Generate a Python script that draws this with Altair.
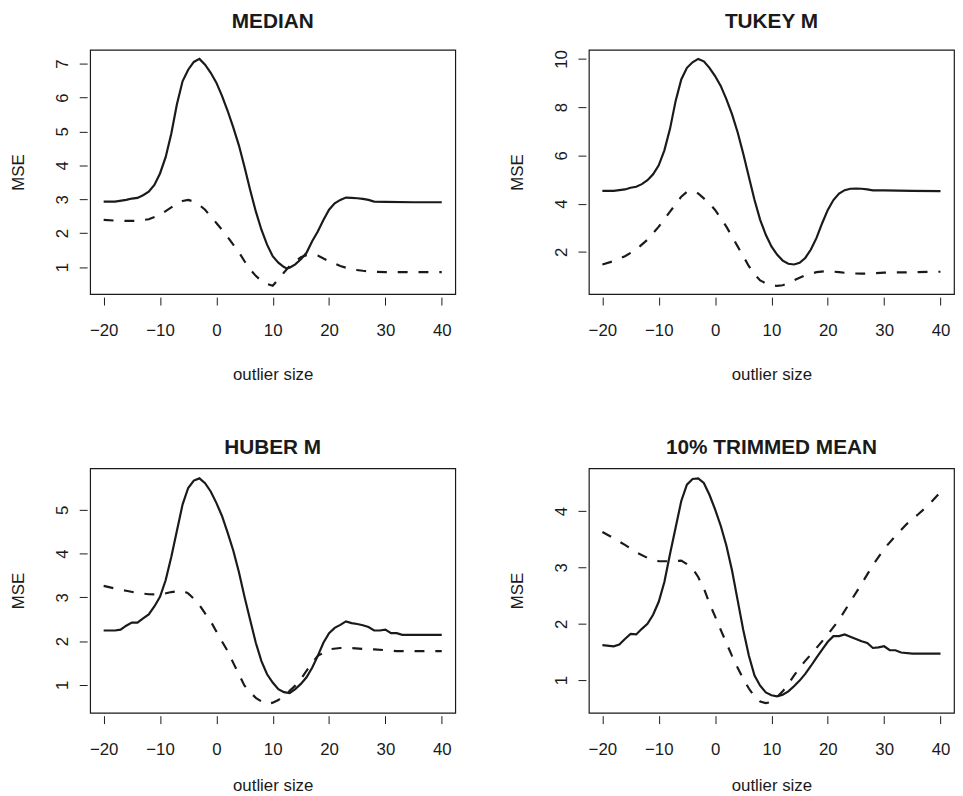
import altair as alt
import pandas as pd

FONT = "Liberation Sans"
INK = "#1a1a1a"

x_ticks = [-20, -10, 0, 10, 20, 30, 40]
x_domain = [-22.4, 42.4]

# ---------------- MEDIAN ----------------
median_solid_x = [-20, -18, -16, -15, -14, -13, -12, -11, -10, -9, -8, -7, -6, -5, -4, -3, -2, -1, 0, 1, 2, 3, 4, 5,
                  6, 7, 8, 9, 10, 11, 12, 12.5, 13, 14, 15, 16, 17, 18, 19, 20, 21, 22, 23, 24, 25, 26, 27, 28, 30, 35, 40]
median_solid_y = [2.93, 2.93, 2.98, 3.02, 3.04, 3.12, 3.22, 3.42, 3.76, 4.24, 4.93, 5.80, 6.48, 6.82, 7.05, 7.14, 6.97,
                  6.73, 6.44, 6.05, 5.61, 5.12, 4.59, 3.95, 3.27, 2.64, 2.10, 1.66, 1.32, 1.13, 1.00, 0.96, 0.98, 1.08,
                  1.23, 1.42, 1.76, 2.05, 2.39, 2.69, 2.88, 2.98, 3.05, 3.04, 3.03, 3.01, 2.98, 2.93, 2.92, 2.91, 2.91]
median_dash_x = [-20, -18, -16, -14, -12, -10, -8, -6, -5, -4, -3, -2, -1, 0, 1, 2, 3, 4, 5, 6, 7, 8, 9, 10, 11, 12,
                 13, 14, 15, 16, 17, 18, 20, 22, 24, 26, 28, 30, 35, 40]
median_dash_y = [2.39, 2.37, 2.36, 2.36, 2.41, 2.54, 2.76, 2.95, 2.98, 2.93, 2.83, 2.69, 2.49, 2.30, 2.10, 1.89, 1.66,
                 1.44, 1.17, 0.93, 0.74, 0.59, 0.50, 0.45, 0.64, 0.84, 1.03, 1.17, 1.29, 1.35, 1.37, 1.34, 1.17, 1.03,
                 0.93, 0.89, 0.86, 0.85, 0.85, 0.85]

# ---------------- TUKEY M ----------------
tukey_solid_x = [-20, -18, -16, -15, -14, -13, -12, -11, -10, -9, -8, -7, -6, -5, -4, -3, -2, -1, 0, 1, 2, 3, 4, 5, 6,
                 7, 8, 9, 10, 11, 12, 13, 14, 15, 16, 17, 18, 19, 20, 21, 22, 23, 24, 25, 26, 27, 28, 30, 35, 40]
tukey_solid_y = [4.53, 4.53, 4.59, 4.66, 4.70, 4.81, 4.97, 5.22, 5.59, 6.21, 7.10, 8.26, 9.15, 9.63, 9.86, 10.0, 9.90,
                 9.63, 9.29, 8.88, 8.33, 7.71, 6.96, 6.07, 5.11, 4.15, 3.33, 2.71, 2.23, 1.89, 1.64, 1.51, 1.48, 1.55,
                 1.75, 2.10, 2.58, 3.19, 3.74, 4.15, 4.42, 4.56, 4.62, 4.63, 4.62, 4.59, 4.55, 4.55, 4.53, 4.52]
tukey_dash_x = [-20, -18, -16, -14, -12, -10, -8, -6, -5, -4, -3, -2, -1, 0, 1, 2, 3, 4, 5, 6, 7, 8, 9, 10, 11, 12, 13,
                14, 15, 16, 18, 20, 22, 24, 26, 28, 30, 35, 40]
tukey_dash_y = [1.48, 1.62, 1.82, 2.10, 2.51, 3.05, 3.67, 4.29, 4.49, 4.52, 4.42, 4.22, 4.01, 3.74, 3.40, 3.05, 2.64,
                2.23, 1.82, 1.41, 1.07, 0.82, 0.70, 0.63, 0.59, 0.62, 0.70, 0.82, 0.93, 1.03, 1.16, 1.21, 1.16, 1.11,
                1.10, 1.11, 1.14, 1.16, 1.18]

# ---------------- HUBER M ----------------
huber_solid_x = [-20, -18, -17, -16, -15, -14, -13, -12, -11, -10, -9, -8, -7, -6, -5, -4, -3, -2, -1, 0, 1, 2, 3, 4,
                 5, 6, 7, 8, 9, 10, 11, 12, 13, 14, 15, 16, 17, 18, 19, 20, 21, 22, 23, 24, 25, 26, 27, 28, 29, 30,
                 31, 32, 33, 35, 40]
huber_solid_y = [2.24, 2.24, 2.26, 2.35, 2.42, 2.42, 2.52, 2.61, 2.79, 3.01, 3.39, 3.92, 4.52, 5.12, 5.50, 5.67, 5.72,
                 5.61, 5.42, 5.16, 4.86, 4.48, 4.07, 3.58, 3.01, 2.48, 1.96, 1.54, 1.24, 1.05, 0.90, 0.83, 0.81, 0.90,
                 1.02, 1.17, 1.39, 1.66, 1.96, 2.18, 2.30, 2.37, 2.45, 2.41, 2.39, 2.36, 2.32, 2.24, 2.24, 2.26, 2.18,
                 2.18, 2.14, 2.14, 2.14]
huber_dash_x = [-20, -18, -16, -14, -12, -10, -8, -6, -5, -4, -3, -2, -1, 0, 1, 2, 3, 4, 5, 6, 7, 8, 9, 10, 11, 12, 13,
                14, 15, 16, 17, 18, 19, 20, 22, 24, 26, 28, 30, 32, 35, 40]
huber_dash_y = [3.26, 3.20, 3.15, 3.10, 3.07, 3.06, 3.12, 3.15, 3.09, 2.97, 2.82, 2.63, 2.45, 2.22, 1.99, 1.77, 1.50,
                1.24, 0.98, 0.83, 0.70, 0.62, 0.56, 0.59, 0.65, 0.75, 0.86, 0.98, 1.13, 1.32, 1.50, 1.66, 1.73, 1.81,
                1.84, 1.84, 1.82, 1.81, 1.79, 1.77, 1.77, 1.77]

# ---------------- 10% TRIMMED MEAN ----------------
trim_solid_x = [-20, -18, -17, -16, -15, -14, -13, -12, -11, -10, -9, -8, -7, -6, -5, -4, -3, -2, -1, 0, 1, 2, 3, 4, 5,
                6, 7, 8, 9, 10, 11, 12, 13, 14, 15, 16, 17, 18, 19, 20, 21, 22, 23, 24, 25, 26, 27, 28, 29, 30, 31, 32,
                33, 35, 40]
trim_solid_y = [1.62, 1.60, 1.63, 1.73, 1.82, 1.81, 1.91, 2.00, 2.16, 2.39, 2.74, 3.24, 3.71, 4.18, 4.47, 4.57, 4.58,
                4.50, 4.29, 4.03, 3.74, 3.39, 2.95, 2.42, 1.89, 1.43, 1.08, 0.90, 0.78, 0.73, 0.71, 0.74, 0.80, 0.89,
                0.99, 1.11, 1.25, 1.40, 1.54, 1.68, 1.78, 1.78, 1.81, 1.77, 1.73, 1.69, 1.66, 1.57, 1.58, 1.60, 1.53,
                1.53, 1.49, 1.47, 1.47]
trim_dash_x = [-20, -18, -16, -14, -12, -10, -8, -6, -5, -4, -3, -2, -1, 0, 1, 2, 3, 4, 5, 6, 7, 8, 9, 10, 11, 12, 13,
               14, 15, 16, 18, 20, 22, 24, 26, 28, 30, 32, 34, 36, 38, 40]
trim_dash_y = [3.63, 3.52, 3.40, 3.27, 3.17, 3.11, 3.11, 3.12, 3.06, 2.98, 2.83, 2.63, 2.36, 2.13, 1.89, 1.66, 1.43,
               1.22, 1.02, 0.85, 0.71, 0.62, 0.59, 0.61, 0.70, 0.80, 0.93, 1.08, 1.22, 1.34, 1.57, 1.81, 2.07, 2.39,
               2.71, 3.04, 3.33, 3.56, 3.77, 3.94, 4.12, 4.34]

titles = ["MEDIAN", "TUKEY M", "HUBER M", "10% TRIMMED MEAN"]
y_domains = [[0.20, 7.41], [0.25, 10.38], [0.36, 5.95], [0.42, 4.76]]
y_tick_sets = [[1, 2, 3, 4, 5, 6, 7], [2, 4, 6, 8, 10], [1, 2, 3, 4, 5], [1, 2, 3, 4]]

PW, PH = 369, 247


def panel(title, sx, sy, dx, dy, ydom, yticks, title_offset, xtitle_y):
    solid = pd.DataFrame({"x": sx, "y": sy})
    dashed = pd.DataFrame({"x": dx, "y": dy})
    xenc = alt.X(
        "x:Q",
        scale=alt.Scale(domain=x_domain, nice=False, zero=False),
        axis=alt.Axis(values=x_ticks, title="outlier size", grid=False, domain=False, offset=3,
                      tickSize=8, tickColor=INK, labelBaseline="alphabetic", labelPadding=31,
                      labelFlush=False, labelOverlap=False, titleBaseline="alphabetic", titleY=xtitle_y,
                      titleX=PW / 2, titleAlign="center"),
    )
    yenc = alt.Y(
        "y:Q",
        scale=alt.Scale(domain=ydom, nice=False, zero=False),
        axis=alt.Axis(values=yticks, title="MSE", grid=False, domain=False, offset=3, tickSize=8,
                      tickColor=INK, labelAngle=270, labelAlign="center", labelBaseline="alphabetic",
                      labelPadding=12, labelFlush=False, labelOverlap=False, titleAngle=270,
                      titleAlign="center", titleBaseline="alphabetic", titleX=-64.5, titleY=PH / 2),
    )
    l1 = alt.Chart(solid).mark_line(color=INK, strokeWidth=2.2).encode(x=xenc, y=yenc)
    l2 = alt.Chart(dashed).mark_line(color=INK, strokeWidth=2.2, strokeDash=[10, 11]).encode(x=xenc, y=yenc)
    return alt.layer(l1, l2).properties(
        width=PW, height=PH,
        title=alt.TitleParams(title, offset=title_offset),
    )


p1 = panel(titles[0], median_solid_x, median_solid_y, median_dash_x, median_dash_y, y_domains[0], y_tick_sets[0], 18, 83)
p2 = panel(titles[1], tukey_solid_x, tukey_solid_y, tukey_dash_x, tukey_dash_y, y_domains[1], y_tick_sets[1], 18, 83)
p3 = panel(titles[2], huber_solid_x, huber_solid_y, huber_dash_x, huber_dash_y, y_domains[2], y_tick_sets[2], 10.5, 76)
p4 = panel(titles[3], trim_solid_x, trim_solid_y, trim_dash_x, trim_dash_y, y_domains[3], y_tick_sets[3], 10.5, 76)

chart = alt.vconcat(
    alt.hconcat(p1, p2, spacing=51),
    alt.hconcat(p3, p4, spacing=51),
    spacing=53,
).properties(
    padding={"top": -2, "left": 0, "right": 0, "bottom": 0}, background="white"
).configure_view(
    stroke=INK, strokeWidth=1.2
).configure_axis(
    labelFont=FONT, labelFontSize=17, labelColor=INK,
    titleFont=FONT, titleFontSize=17, titleFontWeight="normal", titleColor=INK,
).configure_title(
    font=FONT, fontSize=21, fontWeight="bold", color=INK, anchor="middle", frame="group",
    baseline="alphabetic",
)

chart.save("out.html", embed_options={"renderer": "svg", "actions": False})
